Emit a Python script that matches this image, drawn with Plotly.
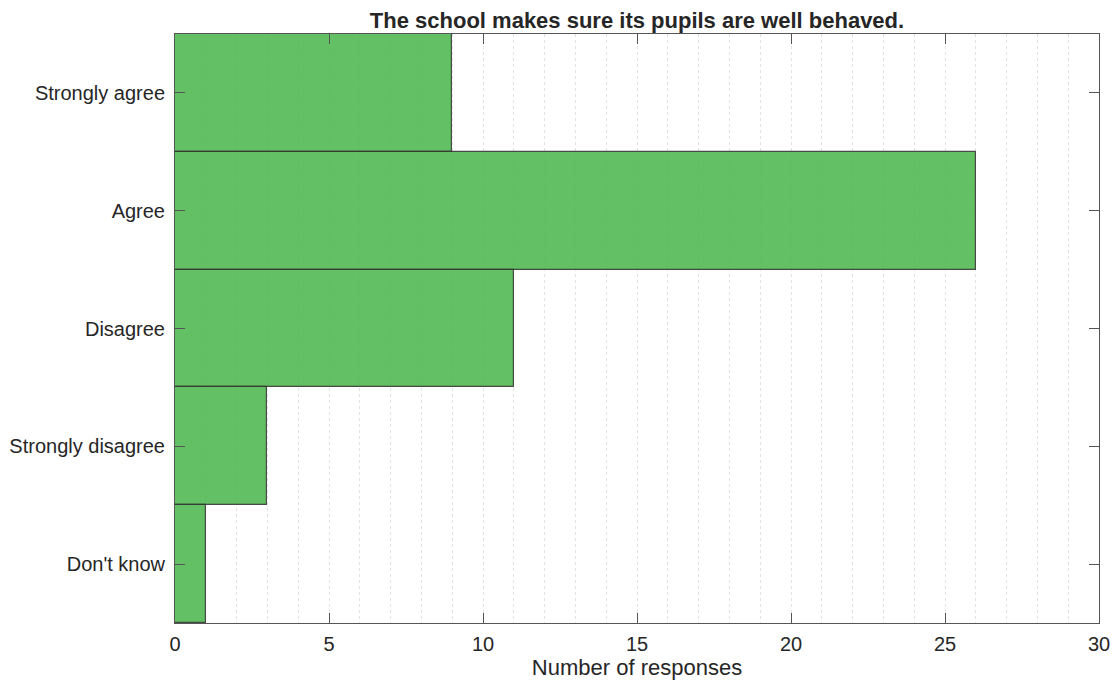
import plotly.graph_objects as go

categories = ["Strongly agree", "Agree", "Disagree", "Strongly disagree", "Don't know"]
counts = [9, 26, 11, 3, 1]
x_ticks = [0, 5, 10, 15, 20, 25, 30]

fig = go.Figure()
fig.add_trace(go.Bar(
    y=categories, x=counts, orientation="h", width=1.0,
    marker=dict(color="rgba(75,182,75,0.86)", line=dict(color="rgba(50,50,50,0.85)", width=1.2)),
))

fig.update_layout(
    width=1114, height=680,
    margin=dict(l=175, r=15, t=34, b=57, autoexpand=False),
    paper_bgcolor="white", plot_bgcolor="white",
    font=dict(family="Liberation Sans, Arial, sans-serif", color="#262626", size=20),
    title=dict(text="<b>The school makes sure its pupils are well behaved.</b>",
               x=0.5, xref="paper", y=1 - 20 / 680, yref="container", yanchor="middle",
               font=dict(size=22, color="#262626")),
    showlegend=False,
    bargap=0,
)
fig.update_xaxes(
    range=[0, 30], tickvals=x_ticks, ticks="inside", ticklen=10, tickcolor="#555",
    showline=True, linecolor="#555", linewidth=1, mirror="ticks",
    showgrid=True, gridcolor="#e2e2e2", griddash="dot", gridwidth=1,
    minor=dict(dtick=1, showgrid=True, gridcolor="#e2e2e2", griddash="dot", gridwidth=1, ticks=""),
    zeroline=False, automargin=False,
    title=dict(text="Number of responses", font=dict(size=22), standoff=2),
    tickfont=dict(size=20), ticklabelstandoff=3,
)
fig.update_yaxes(
    categoryorder="array", categoryarray=categories, autorange="reversed",
    range=[4.5, -0.5],
    ticks="inside", ticklen=10, tickcolor="#555",
    showline=True, linecolor="#555", linewidth=1, mirror="ticks",
    showgrid=False, zeroline=False, automargin=False,
    tickfont=dict(size=20), ticklabelstandoff=5,
)
fig.write_html("out.html", config={"displayModeBar": False},
               post_script="document.body.style.margin='0';document.body.style.overflow='hidden';")
